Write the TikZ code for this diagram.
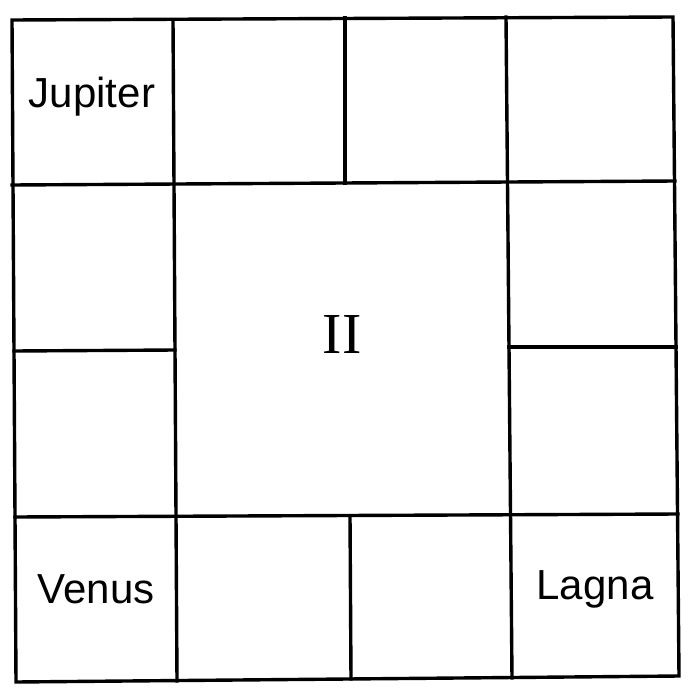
\documentclass[tikz,border=0pt]{standalone}
\usepackage{fontspec}
\setmainfont{Liberation Sans}
\newfontfamily\chartserif{Liberation Serif}
\begin{document}
\begin{tikzpicture}[x=1pt,y=-1pt,
  gridline/.style={line width=3.4pt,black,line cap=rect,line join=miter},
  planet/.style={anchor=base,inner sep=0pt,font=\fontsize{42}{48}\selectfont},
  rashi/.style={anchor=base,inner sep=0pt,font=\chartserif\fontsize{58}{64}\selectfont}]
\fill[white] (0,0) rectangle (692,696);
\useasboundingbox (0,0) rectangle (692,696);
% corners
\coordinate (TL) at (12,20);
\coordinate (TR) at (673,17);
\coordinate (BR) at (679,676);
\coordinate (BL) at (16,682);
% inner line ends
\coordinate (h1a) at (12,185);  \coordinate (h1b) at (675,181);
\coordinate (h2a) at (14,351);  \coordinate (h2b) at (175,350);
\coordinate (h2c) at (509,347); \coordinate (h2d) at (676,347);
\coordinate (h3a) at (15,517);  \coordinate (h3b) at (678,514);
\coordinate (v1a) at (173,20);  \coordinate (v1b) at (177,681);
\coordinate (v2a) at (345,18);  \coordinate (v2b) at (345,183);
\coordinate (v2c) at (350,516); \coordinate (v2d) at (351,679);
\coordinate (v3a) at (506,17);  \coordinate (v3b) at (512,678);
\draw[gridline] (TL) -- (TR) -- (BR) -- (BL) -- cycle;
\draw[gridline] (h1a) -- (h1b);
\draw[gridline] (h2a) -- (h2b);
\draw[gridline] (h2c) -- (h2d);
\draw[gridline] (h3a) -- (h3b);
\draw[gridline] (v1a) -- (v1b);
\draw[gridline] (v2a) -- (v2b);
\draw[gridline] (v2c) -- (v2d);
\draw[gridline] (v3a) -- (v3b);
% labels
\node[planet] (jup) at (92,107) {Jupiter};
\node[planet] (ven) at (96,603) {Venus};
\node[planet] (lag) at (595,599) {Lagna};
\node[rashi] (two) at (342,353) {II};
\end{tikzpicture}
\end{document}
